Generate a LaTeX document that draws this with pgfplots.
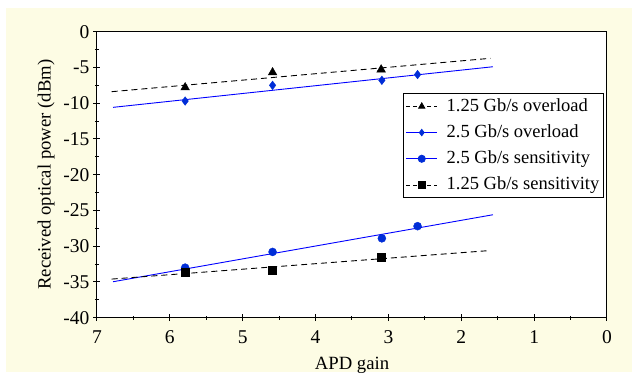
\documentclass[border=0pt]{standalone}
\usepackage{pgfplots}
\pgfplotsset{compat=1.18}
\usepackage{fontspec}
\setmainfont{Liberation Serif}
\definecolor{bgbeige}{RGB}{253,252,228}
\definecolor{mkblue}{RGB}{0,45,215}
\begin{document}
\fontsize{19bp}{22bp}\selectfont
\begin{tikzpicture}
\path[use as bounding box] (0,0) rectangle (632bp,374bp);
\fill[bgbeige] (6bp,2bp) rectangle (632bp,366bp);
\begin{axis}[
  at={(97bp,56.3bp)}, anchor=south west,
  scale only axis, width=510bp, height=286bp,
  x dir=reverse, xmin=0, xmax=7, ymin=-40, ymax=0,
  xtick={0,1,...,7}, ytick={-40,-35,...,0},
  minor x tick num=1, minor y tick num=1,
  xtick pos=bottom, ytick pos=left,
  tick align=center, major tick length=7bp, minor tick length=4bp,
  tick style={black, line width=1bp},
  axis line style={line width=1bp},
  axis background/.style={fill=white},
  /pgf/number format/assume math mode=true,
  ticklabel style={font=\fontsize{19.5bp}{22bp}\selectfont},
  xticklabel style={yshift=-3bp},
  yticklabel style={xshift=2.5bp},
  label style={font=\fontsize{18.7bp}{22bp}\selectfont},
  xlabel={APD gain}, ylabel={Received optical power (dBm)},
  xlabel style={yshift=0bp},
  ylabel style={yshift=-4bp},
  legend style={at={(0.9935,0.785)}, anchor=north east, draw=black, line width=0.8bp,
    font=\fontsize{18.5bp}{21bp}\selectfont, row sep=6.5bp, column sep=7bp, inner xsep=2bp, inner ysep=3bp},
  legend cell align=left,
  legend image code/.code={\draw[#1] (0bp,0bp) -- (31bp,0bp); \draw[#1, solid] plot coordinates {(15.5bp,0bp)};},
]
% fit lines
\addplot[black, line width=0.9bp, dash pattern=on 6bp off 4bp, forget plot] coordinates {(6.8,-8.39) (1.6,-3.72)};
\addplot[blue, line width=0.9bp, forget plot] coordinates {(6.78,-10.58) (1.565,-4.9)};
\addplot[blue, line width=0.9bp, forget plot] coordinates {(6.78,-34.97) (1.565,-25.6)};
\addplot[black, line width=0.9bp, dash pattern=on 6bp off 4bp, forget plot] coordinates {(6.8,-34.6) (1.6,-30.6)};
% data
\addplot[only marks, mark=triangle*, mark size=5bp, black, forget plot] coordinates {(5.79,-7.8) (4.59,-5.7) (3.1,-5.3)};
\addplot[only marks, mark=diamond*, mark size=4.3bp, mkblue, forget plot] coordinates {(5.79,-9.7) (4.59,-7.5) (3.09,-6.8) (2.6,-6.0)};
\addplot[only marks, mark=*, mark size=4bp, mkblue, forget plot] coordinates {(5.79,-33.0) (4.59,-30.8) (3.09,-28.9) (2.6,-27.2)};
\addplot[only marks, mark=square*, mark size=4bp, black, forget plot] coordinates {(5.79,-33.6) (4.59,-33.3) (3.1,-31.6)};
% legend
\addlegendimage{black, line width=0.8bp, dash pattern=on 4bp off 3bp, mark=triangle*, mark size=3.6bp}
\addlegendentry{1.25 Gb/s overload}
\addlegendimage{blue, line width=0.8bp, mark=diamond*, mark size=3.2bp, mark options={mkblue}}
\addlegendentry{2.5 Gb/s overload}
\addlegendimage{blue, line width=0.8bp, mark=*, mark size=3.6bp, mark options={mkblue}}
\addlegendentry{2.5 Gb/s sensitivity}
\addlegendimage{black, line width=0.8bp, dash pattern=on 4bp off 3bp, mark=square*, mark size=3.4bp}
\addlegendentry{1.25 Gb/s sensitivity}
\end{axis}
\end{tikzpicture}
\end{document}
